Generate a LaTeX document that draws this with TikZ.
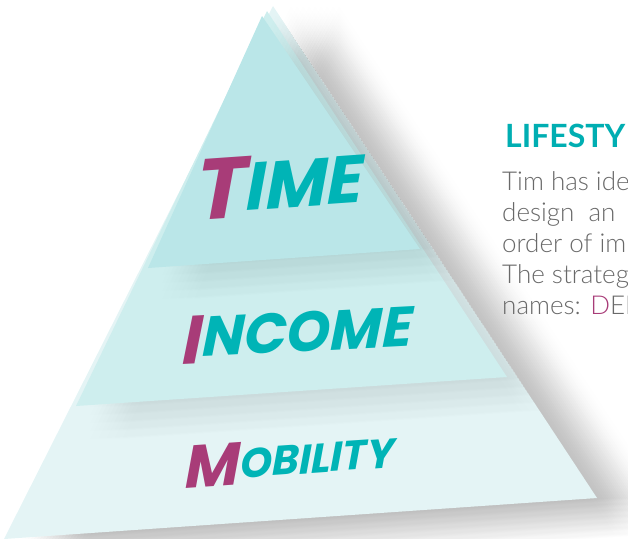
\documentclass[tikz,border=0pt]{standalone}
\usepackage{fontspec}
\newfontfamily\displayfont{Poppins}
\newfontfamily\bodyfont{Lato Light}
\newfontfamily\headfont{Lato}

\definecolor{layerTop}{RGB}{186,230,232}
\definecolor{layerMid}{RGB}{206,238,238}
\definecolor{layerBot}{RGB}{228,244,245}
\definecolor{plum}{RGB}{168,60,120}
\definecolor{aqua}{RGB}{0,180,182}
\definecolor{headteal}{RGB}{0,174,178}
\definecolor{bodygray}{RGB}{105,105,105}

\tikzset{
  toplayer/.style={insert path={(262,16) -- (420,249) -- (148,268) -- cycle}},
  midlayer/.style={insert path={(267,11) -- (507,377) -- (76,406) -- cycle}},
  botlayer/.style={insert path={(273,6) -- (597,498) -- (4,539) -- cycle}},
  word/.style={inner sep=0pt, anchor=base west, font=\displayfont\bfseries\itshape},
  bodyline/.style={inner sep=0pt, anchor=base west, text=bodygray,
    font=\bodyfont\fontsize{26}{31}\selectfont},
}

% soft shadow under the whole pyramid: outline stamped on a 9x7 grid of offsets
\newcommand\outershadow[3]{%
  \foreach \i in {-4,...,4}{\foreach \j in {-3,...,3}{
    \fill[black, opacity=0.0039216, shift={(#2+6*\i,#3+6*\j)}, #1];}}}
% softer shadow of a slice onto the slices below it: 5x5 grid of offsets
\newcommand\slicehadow[3]{%
  \foreach \i in {-2,...,2}{\foreach \j in {-2,...,2}{
    \fill[black, opacity=0.0039216, shift={(#2+8*\i,#3+8*\j)}, #1];}}}

\begin{document}
\begin{tikzpicture}[x=1pt,y=-1pt]
\useasboundingbox (0,0) rectangle (628,538);
\clip (0,0) rectangle (628,538);

% pyramid, bottom slice first
\outershadow{botlayer}{42}{18}
\fill[layerBot, botlayer];
\begin{scope}
  \clip[botlayer];
  \slicehadow{midlayer}{30}{17}
\end{scope}
\fill[layerMid, midlayer];
\begin{scope}
  \clip[botlayer];
  \slicehadow{toplayer}{30}{15}
\end{scope}
\fill[layerTop, toplayer];

% slice labels
\node[word, rotate=4, xslant=0.08] (time) at (196,214)
  {\fontsize{86}{86}\selectfont\color{plum}\raisebox{-6pt}{T}\color{aqua}\fontsize{67}{67}\selectfont IME};
\node[word, rotate=3, xslant=0.08] (income) at (182,358)
  {\fontsize{68}{68}\selectfont\color{plum}\raisebox{-6pt}{I}\color{aqua}\fontsize{56}{56}\selectfont NCOME};
\node[word, rotate=4, xslant=0.08] (mobility) at (185,482)
  {\fontsize{60}{60}\selectfont\color{plum}\raisebox{-6pt}{M}\color{aqua}\fontsize{41}{41}\selectfont OBILITY};

% side text
\node[inner sep=0pt, anchor=base west, text=headteal,
  font=\headfont\bfseries\fontsize{32}{32}\selectfont] (heading) at (505,147) {LIFESTY};
\node[bodyline] (line1) at (502,190) {Tim has ide};
\node[bodyline] (line2) at (502,221) {design\ \ an};
\node[bodyline] (line3) at (502,252) {order of im};
\node[bodyline] (line4) at (502,283) {The strateg};
\node[bodyline] (line5) at (502,314) {names: \textcolor{plum}{D}EI};
\end{tikzpicture}
\end{document}
